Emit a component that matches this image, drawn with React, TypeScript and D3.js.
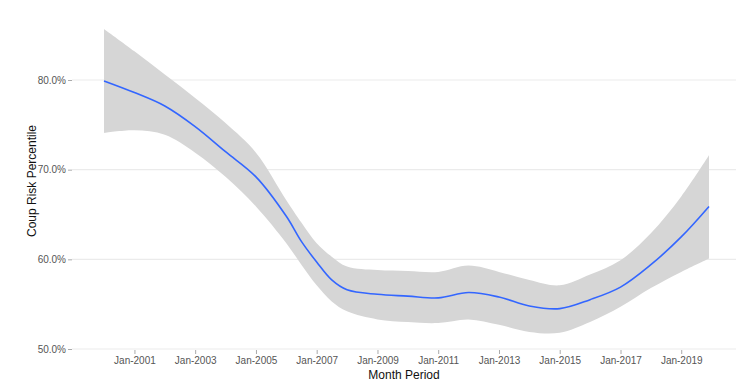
import React, { useRef, useEffect } from 'react';
import * as d3 from 'd3';

// month periods (smoothed fit, with confidence band)
const periods = [
  '2000-01', '2001-01', '2002-01', '2003-01', '2004-01', '2005-01', '2006-01', '2006-07',
  '2007-01', '2007-07', '2008-01', '2009-01', '2010-01', '2011-01', '2012-01', '2013-01',
  '2014-01', '2015-01', '2016-01', '2017-01', '2018-01', '2019-01', '2019-12',
];
const fit = [
  79.9, 78.6, 77.1, 74.8, 72.0, 69.2, 64.8, 62.0,
  59.7, 57.7, 56.6, 56.1, 55.9, 55.7, 56.3, 55.8,
  54.8, 54.5, 55.5, 56.9, 59.4, 62.5, 65.9,
];
const upper = [
  85.7, 83.2, 80.6, 78.0, 75.2, 71.9, 66.6, 64.1,
  61.8, 60.3, 59.2, 58.8, 58.7, 58.6, 59.3, 58.6,
  57.7, 57.1, 58.3, 59.9, 62.9, 67.0, 71.6,
];
const lower = [
  74.1, 74.4, 73.9, 71.9, 69.2, 65.9, 61.8, 59.4,
  57.1, 55.3, 54.2, 53.3, 53.0, 52.9, 53.3, 52.7,
  51.9, 51.8, 53.0, 54.7, 56.8, 58.6, 60.1,
];
const yTicks = [50, 60, 70, 80];
const xTickYears = [2001, 2003, 2005, 2007, 2009, 2011, 2013, 2015, 2017, 2019];

const App = () => {
  const ref = useRef<SVGSVGElement>(null);

  useEffect(() => {
    const width = 736;
    const height = 389;
    const plot = { left: 72, right: 736, bottom: 349 };

    const svg = d3.select(ref.current);
    svg.selectAll('*').remove();

    const parse = d3.timeParse('%Y-%m');
    const data = periods.map((p, i) => ({
      date: parse(p) as Date,
      fit: fit[i],
      upper: upper[i],
      lower: lower[i],
    }));

    const x = d3.scaleTime()
      .domain(d3.extent(data, d => d.date) as [Date, Date])
      .range([104, 709]);
    const y = d3.scaleLinear().domain([50, 80]).range([349, 80]);

    // gridlines
    svg.append('g')
      .selectAll('line')
      .data(yTicks)
      .join('line')
      .attr('x1', plot.left)
      .attr('x2', plot.right)
      .attr('y1', d => y(d))
      .attr('y2', d => y(d))
      .attr('stroke', '#ebebeb')
      .attr('stroke-width', 1.1);

    const curve = d3.curveCatmullRom.alpha(0.5);

    svg.append('path')
      .datum(data)
      .attr('fill', '#d6d6d6')
      .attr('d', d3.area<any>()
        .x(d => x(d.date))
        .y0(d => y(d.lower))
        .y1(d => y(d.upper))
        .curve(curve));

    svg.append('path')
      .datum(data)
      .attr('fill', 'none')
      .attr('stroke', '#3366ff')
      .attr('stroke-width', 1.6)
      .attr('d', d3.line<any>()
        .x(d => x(d.date))
        .y(d => y(d.fit))
        .curve(curve));

    // y axis
    const yAxis = svg.append('g')
      .attr('transform', `translate(${plot.left},0)`)
      .call(d3.axisLeft(y).tickValues(yTicks).tickSize(4).tickPadding(2)
        .tickFormat(d => `${(+d).toFixed(1)}%`));
    yAxis.select('.domain').remove();

    // x axis
    const xAxis = svg.append('g')
      .attr('transform', `translate(0,${plot.bottom})`)
      .call(d3.axisBottom(x)
        .tickValues(xTickYears.map(yr => new Date(yr, 0, 1)))
        .tickSize(4)
        .tickPadding(4)
        .tickFormat(d => d3.timeFormat('%b-%Y')(d as Date)));
    xAxis.select('.domain').remove();
    xAxis.selectAll('.tick line').attr('transform', 'translate(0,1)');

    svg.selectAll('.tick line').attr('stroke', '#aaaaaa');
    svg.selectAll('.tick text')
      .attr('fill', '#555555')
      .style('font-family', '"Liberation Sans", Arial, sans-serif')
      .style('font-size', '10px');

    svg.append('text')
      .attr('x', (plot.left + plot.right) / 2)
      .attr('y', 379)
      .attr('text-anchor', 'middle')
      .attr('fill', '#111')
      .style('font-family', '"Liberation Sans", Arial, sans-serif')
      .style('font-size', '12px')
      .text('Month Period');

    svg.append('text')
      .attr('transform', 'translate(36,181) rotate(-90)')
      .attr('text-anchor', 'middle')
      .attr('fill', '#111')
      .style('font-family', '"Liberation Sans", Arial, sans-serif')
      .style('font-size', '12px')
      .text('Coup Risk Percentile');

    svg.attr('width', width).attr('height', height);
  }, []);

  return (
    <svg
      ref={ref}
      width={736}
      height={389}
      style={{ position: 'absolute', left: 0, top: 0, background: '#fff' }}
    />
  );
};

export default App;
